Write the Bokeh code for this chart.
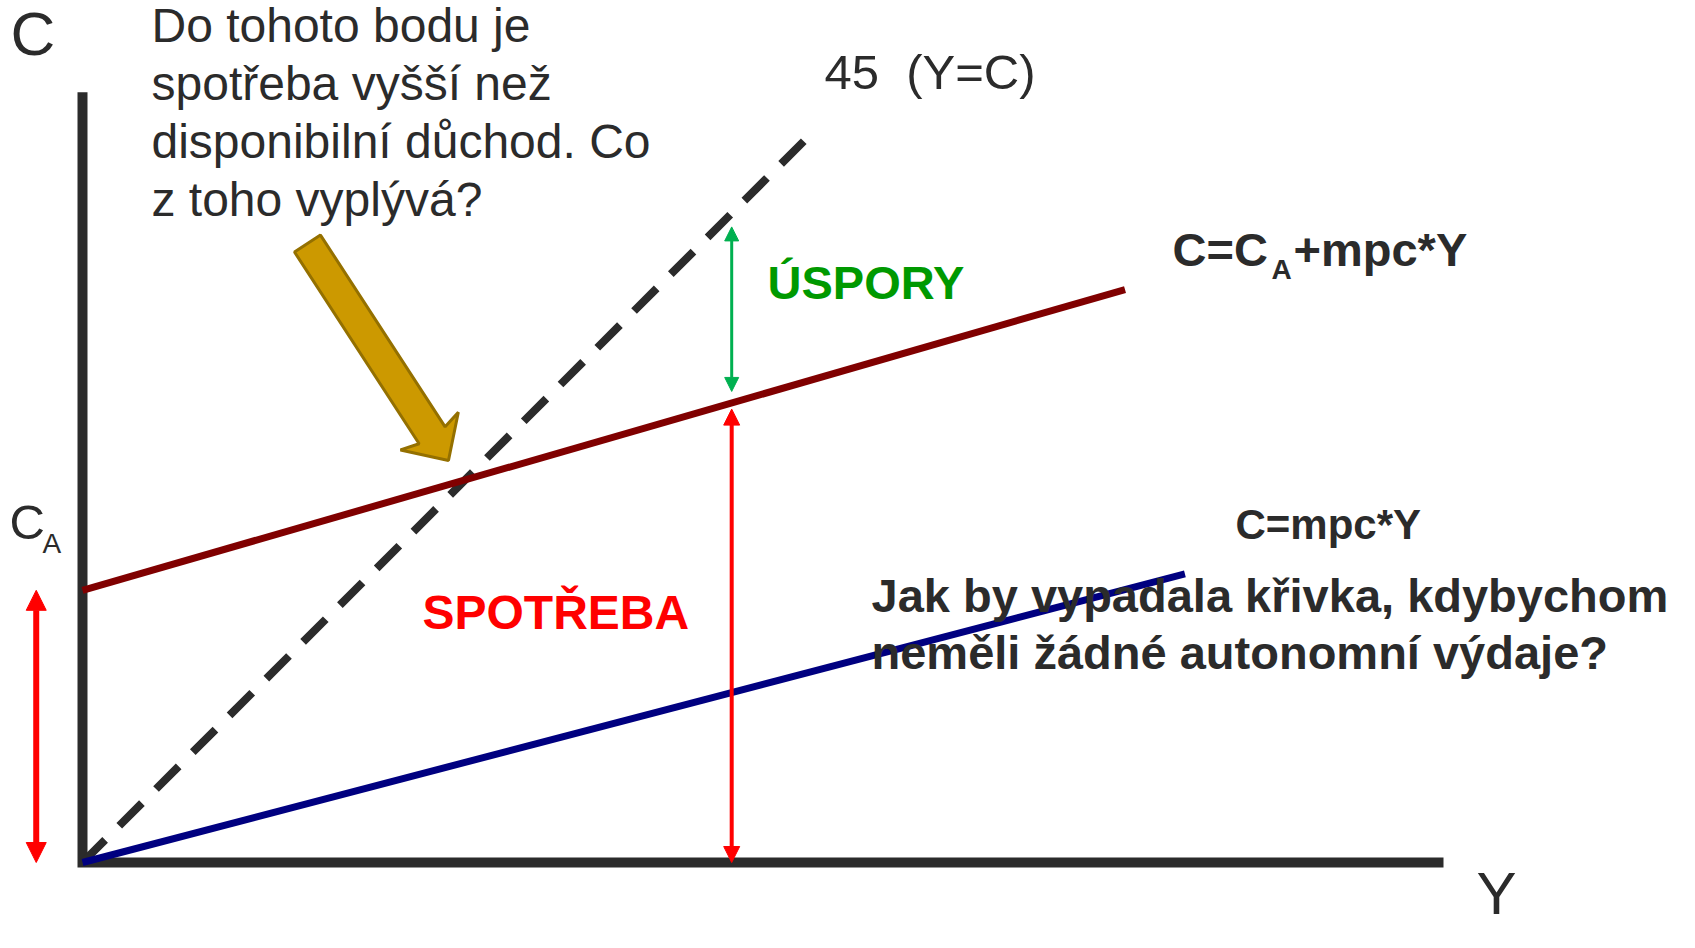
import numpy as np
from bokeh.plotting import figure
from bokeh.models import Range1d, Arrow, NormalHead
from bokeh.core.properties import value
from bokeh.embed import file_html
from bokeh.resources import INLINE

# ---------------- data (model units: Y income, C consumption) ----------------
Y_AXIS_MAX = 100.0
C_AXIS_MAX = 56.6
CA = 20.0                          # autonomous consumption
line45_Y = [0.0, 53.4]             # 45 degree line Y = C
line45_C = [0.0, 53.4]
cons_Y = [0.0, 76.6]               # C = CA + mpc*Y
cons_C = [20.0, 42.1]
cons0_Y = [0.0, 81.0]              # C = mpc*Y
cons0_C = [0.0, 21.2]
Y_MARK = 47.7                      # income where spending / savings are shown
CA_ARROW_Y = -3.4                  # position of the CA double arrow

question_lines = ["Do tohoto bodu je", "spotřeba vyšší než",
                  "disponibilní důchod. Co", "z toho vyplývá?"]
note_lines = ["Jak by vypadala křivka, kdybychom",
              "neměli žádné autonomní výdaje?"]

# ---------------- figure set-up ----------------
W, H = 1679, 932
PX = 13.61                         # pixels per model unit (equal on both axes)
x0 = -82 / PX
y0 = -(H - 862) / PX
p = figure(width=W, height=H, output_backend="svg", toolbar_location=None,
           x_range=Range1d(x0, x0 + W / PX), y_range=Range1d(y0, y0 + H / PX),
           x_axis_location=None, y_axis_location=None, min_border=0)
p.grid.visible = False
p.outline_line_color = None
p.background_fill_color = "white"
p.border_fill_color = "white"

DARK = "#2b2b2b"
FONT = value("Liberation Sans")

# axes
p.line([0, 0, Y_AXIS_MAX], [C_AXIS_MAX, 0, 0], line_color=DARK, line_width=10,
       line_join="miter", line_cap="butt")

# 45 degree line
p.line(line45_Y, line45_C, line_color=DARK, line_width=8, line_dash="32 20")

# consumption functions
p.line(cons_Y, cons_C, line_color="#800000", line_width=7)
p.line(cons0_Y, cons0_C, line_color="#000080", line_width=7)

# spending / savings arrows at Y_MARK
mpc = (cons_C[1] - cons_C[0]) / (cons_Y[1] - cons_Y[0])
c_at_mark = cons_C[0] + mpc * Y_MARK
p.add_layout(Arrow(end=NormalHead(size=16, fill_color="#ff0000", line_color="#ff0000"),
                   start=NormalHead(size=16, fill_color="#ff0000", line_color="#ff0000"),
                   x_start=Y_MARK, y_start=0.0, x_end=Y_MARK, y_end=c_at_mark - 0.45,
                   line_color="#ff0000", line_width=4))
p.add_layout(Arrow(end=NormalHead(size=14, fill_color="#00b050", line_color="#00b050"),
                   start=NormalHead(size=14, fill_color="#00b050", line_color="#00b050"),
                   x_start=Y_MARK, y_start=c_at_mark + 0.85, x_end=Y_MARK, y_end=Y_MARK - 1.0,
                   line_color="#00b050", line_width=3))
# CA double arrow
p.add_layout(Arrow(end=NormalHead(size=20, fill_color="#ff0000", line_color="#ff0000"),
                   start=NormalHead(size=20, fill_color="#ff0000", line_color="#ff0000"),
                   x_start=CA_ARROW_Y, y_start=0.0, x_end=CA_ARROW_Y, y_end=CA,
                   line_color="#ff0000", line_width=6))

# gold block arrow pointing at the intersection
tail = np.array([16.53, 45.48])
tip = np.array([26.89, 29.54])
u = (tip - tail) / np.linalg.norm(tip - tail)
n = np.array([-u[1], u[0]])
w_shaft, w_head = 15.5 / PX, 34.5 / PX
L_inner, L_barb = 30.0 / PX, 35.0 / PX
b_in = tip - L_inner * u
b_out = tip - L_barb * u
pts = [tail + n * w_shaft, b_in + n * w_shaft, b_out + n * w_head, tip,
       b_out - n * w_head, b_in - n * w_shaft, tail - n * w_shaft]
p.patch([q[0] for q in pts], [q[1] for q in pts], fill_color="#cc9900",
        line_color="#947000", line_width=3)

# ---------------- texts ----------------
def mx(px):
    return (px - 82) / PX

def my(py):
    return (862 - py) / PX

def txt(xs, ys, t, size, color=DARK, bold=False):
    # ys are baselines in reference pixels; correct for renderer offset
    p.text(x=[mx(v) for v in xs], y=[my(v - 0.38 * size) for v in ys], text=t,
           text_font=FONT, text_font_size=value(f"{size}px"),
           text_color=color, text_font_style="bold" if bold else "normal",
           text_align="left", text_baseline="alphabetic")

txt([10], [57], ["C"], 62)
txt([151] * 4, [43, 101, 159, 217], question_lines, 48)
txt([824], [90], ["45\u00a0\u00a0(Y=C)"], 49)
txt([1172], [267], ["C=C"], 47, bold=True)
txt([1271], [280], ["A"], 28, bold=True)
txt([1293], [267], ["+mpc*Y"], 47, bold=True)
txt([767], [300], ["ÚSPORY"], 47, color="#009900", bold=True)
txt([422], [630], ["SPOTŘEBA"], 48, color="#ff0000", bold=True)
txt([1235], [540], ["C=mpc*Y"], 42, bold=True)
txt([871] * 2, [613, 670], note_lines, 47, bold=True)
txt([9], [540], ["C"], 49)
txt([42], [554], ["A"], 28)
txt([1476], [916], ["Y"], 60)

open("out.html", "w").write(file_html(p, INLINE))
